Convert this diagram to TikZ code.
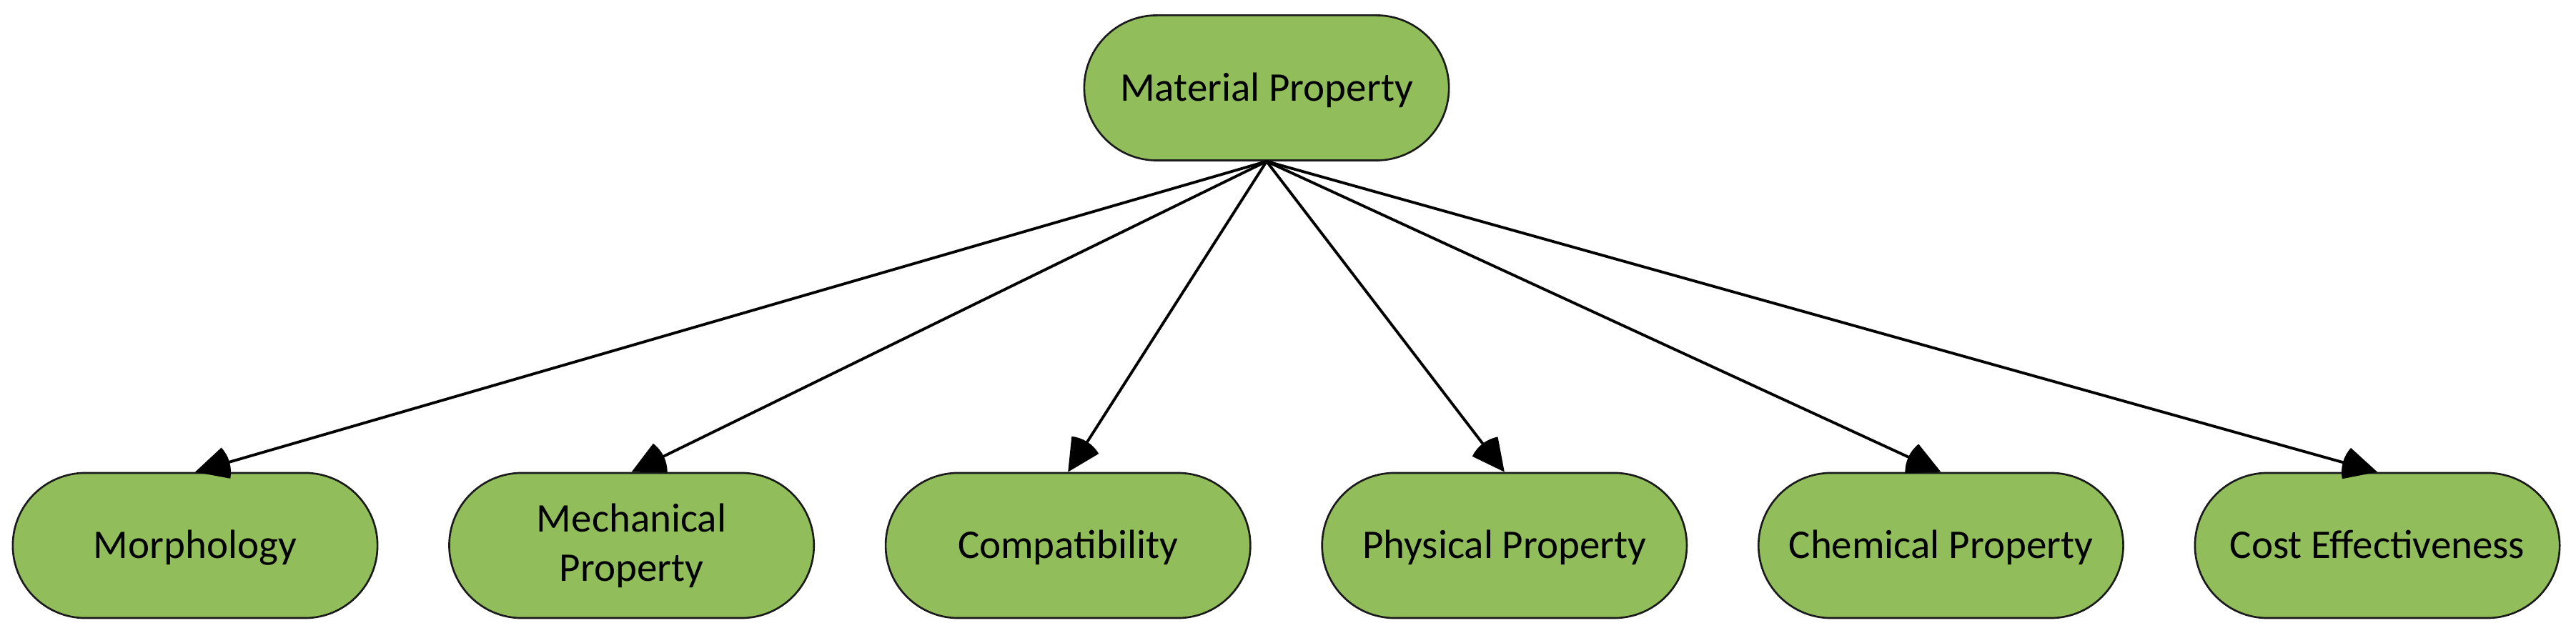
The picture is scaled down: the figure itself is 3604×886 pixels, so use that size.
\documentclass[tikz,border=0pt]{standalone}
\usepackage{fontspec}
\setmainfont{Carlito}
\usetikzlibrary{shapes.misc,arrows.meta}
\definecolor{boxgreen}{RGB}{146,189,91}
\definecolor{boxline}{RGB}{26,26,26}
\pgfdeclarearrow{
  name = Sector,
  parameters = {\the\pgfarrowlength},
  setup code = {
    \pgfarrowssettipend{0pt}
    \pgfarrowssetlineend{-0.6\pgfarrowlength}
    \pgfarrowssetbackend{-\pgfarrowlength}
    \pgfarrowssavethe\pgfarrowlength
  },
  drawing code = {
    \pgfpathmoveto{\pgfpointorigin}
    \pgfpathlineto{\pgfpointpolar{153.3}{\pgfarrowlength}}
    \pgfpatharc{153.3}{206.7}{\pgfarrowlength}
    \pgfpathclose
    \pgfusepathqfill
  },
  defaults = {length = 0.5cm}
}
\tikzset{
  pill/.style={rounded rectangle, draw=boxline, line width=0.75pt, fill=boxgreen,
    minimum width=5.1cm, minimum height=2.03cm, inner sep=0pt,
    font=\fontsize{16.2pt}{19.6pt}\selectfont, text height=0.367cm, text depth=0pt},
  link/.style={line width=1.1pt, -{Sector[length=0.5cm]}}
}
\begin{document}
\begin{tikzpicture}[x=0.01cm,y=-0.01cm]
\useasboundingbox (0,0) rectangle (3604,886);
\node[pill] (mat) at (1772,123) {Material Property};
\node[pill] (mor) at (273,763.5) {Morphology};
\node[pill, align=center, text height=, text depth=] (mec) at (883.6,763.5) {Mechanical\\Property};
\node[pill] (com) at (1494.2,763.5) {Compatibility};
\node[pill] (phy) at (2104.8,763.5) {Physical Property};
\node[pill] (che) at (2715.4,763.5) {Chemical Property};
\node[pill] (cos) at (3326,763.5) {Cost Effectiveness};
\foreach \c in {mor,mec,com,phy,che,cos}
  \draw[link] (mat.south) -- (\c.north);
\end{tikzpicture}
\end{document}
